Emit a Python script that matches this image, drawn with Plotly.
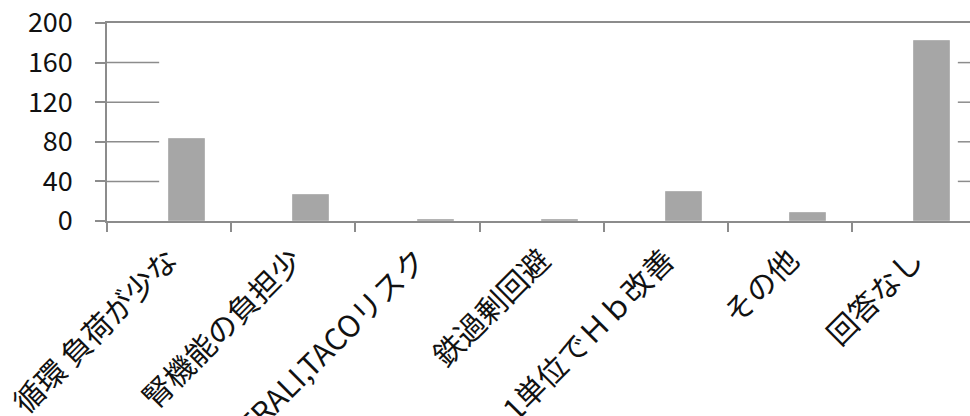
import plotly.graph_objects as go

categories = ["循環 負荷が少な", "腎機能の負担少", "TRALI,TACOリスク", "鉄過剰回避",
              "1単位でＨｂ改善", "その他", "回答なし"]
values = [83, 26, 1, 1, 29, 8, 182]
y_ticks = [0, 40, 80, 120, 160, 200]

LINE = "#8c8c8c"
FONT = "Noto Sans CJK JP"

fig = go.Figure()
fig.add_trace(go.Bar(
    x=categories, y=values, offset=0, width=0.29,
    marker=dict(color="#a6a6a6", line=dict(width=1, color="#b4b4b4")),
))

# partial gridlines as in the reference (left and right stubs)
for v in y_ticks[1:-1]:
    fig.add_shape(type="line", xref="x", yref="y", x0=-0.5, x1=-0.08, y0=v, y1=v,
                  line=dict(color=LINE, width=1.5), layer="below")
    fig.add_shape(type="line", xref="x", yref="y", x0=6.35, x1=6.46, y0=v, y1=v,
                  line=dict(color=LINE, width=1.5), layer="below")

fig.update_layout(
    width=970, height=416,
    margin=dict(l=107, r=0, t=23, b=195),
    paper_bgcolor="white", plot_bgcolor="white",
    showlegend=False,
    font=dict(family=FONT, size=27, color="#111111"),
    bargap=0,
)
fig.update_xaxes(
    type="category", range=[-0.5, 6.448], automargin=False,
    showline=True, linecolor=LINE, linewidth=1.5, mirror=True,
    ticks="outside", ticklen=9, tickcolor=LINE, tickwidth=1.5,
    tickson="boundaries", tickangle=-45, showgrid=False,
    ticklabelstandoff=8,
    tickfont=dict(family=FONT, size=30, color="#111111"),
)
fig.update_yaxes(
    range=[0, 200], tickvals=y_ticks, ticktext=[str(v) for v in y_ticks],
    automargin=False,
    showline=True, linecolor=LINE, linewidth=1.5,
    ticks="outside", ticklen=10, tickcolor=LINE, tickwidth=1.5,
    showgrid=False, zeroline=False, ticklabelstandoff=17,
    tickfont=dict(family=FONT, size=27, color="#111111"),
)

fig.write_html("out.html")
